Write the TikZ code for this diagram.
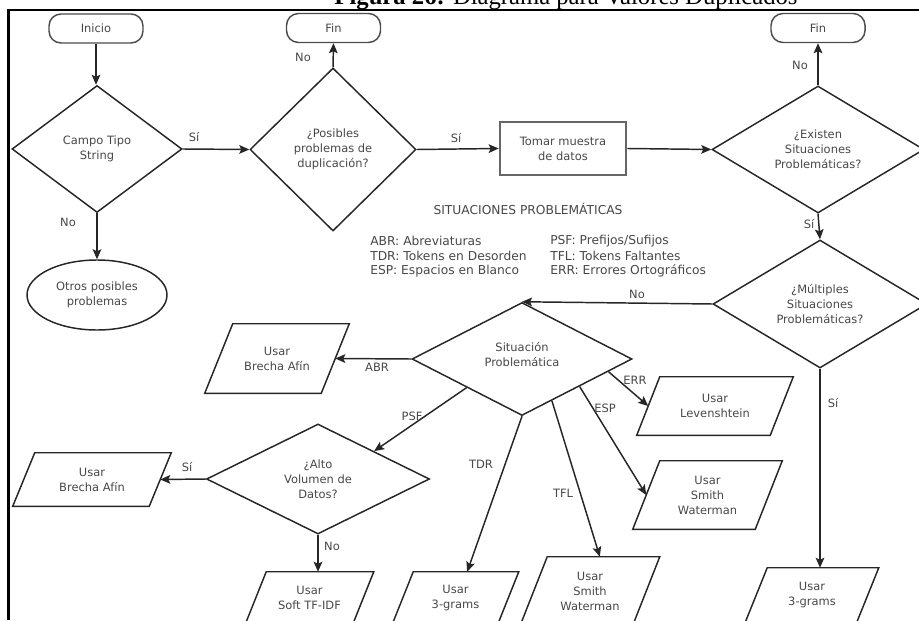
\documentclass[tikz,border=0pt]{standalone}
\usepackage{fontspec}
\setmainfont{DejaVu Sans}
\newfontfamily\captionserif{Liberation Serif}
\usetikzlibrary{shapes.geometric,arrows.meta,calc}

% slanted outline around a data node: #1 node name, #2 half of the horizontal slant
\newcommand{\ioframe}[2]{%
  \draw[shapeline] ($(#1.north west)+(#2,0)$) -- ($(#1.north east)+(#2,0)$)
    -- ($(#1.south east)-(#2,0)$) -- ($(#1.south west)-(#2,0)$) -- cycle;}

\begin{document}
\begin{tikzpicture}[x=0.75pt,y=-0.75pt,
  every node/.style={font=\fontsize{8.6}{11.3}\selectfont, text=black!72},
  shapeline/.style={draw=black!85, line width=1.1pt},
  arrow/.style={draw=black!85, line width=1.1pt, -{Stealth[length=7.5pt,width=6.5pt,inset=1.5pt]}},
  term/.style={shapeline, draw=black!70, rounded corners=9pt, inner sep=0pt,
    minimum width=94*0.75pt, minimum height=29*0.75pt},
  decision/.style={diamond, shapeline, aspect=1, inner sep=0pt, align=center},
  procbox/.style={rectangle, draw=black!60, line width=2pt, inner sep=0pt, align=center},
  iobox/.style 2 args={rectangle, inner sep=0pt, align=center,
    minimum width=#1*0.75pt, minimum height=#2*0.75pt},
  lbl/.style={inner sep=1pt},
  legend/.style={font=\fontsize{9.2}{11}\selectfont, inner sep=0pt},
]
\useasboundingbox (0,0) rectangle (919,620);

% page frame and caption
\draw[line width=2pt, black] (8.5,620) -- (8.5,10) -- (919,10);
\node[anchor=base, inner sep=0pt, text=black, font={\captionserif\fontsize{18.5}{20}\selectfont}]
  (caption) at (566,4.5) {\textbf{Figura 26:} Diagrama para Valores Duplicados};

% terminals
\node[term] (inicio) at (96,28.5) {Inicio};
\node[term] (fin1) at (333.5,28) {Fin};
\node[term] (fin2) at (818,28) {Fin};

% decisions
\node[decision, minimum width=170*0.75pt, minimum height=127*0.75pt] (d1) at (97,149) {Campo Tipo\\String};
\node[decision, minimum width=166*0.75pt, minimum height=163*0.75pt] (d2) at (333,149.5) {¿Posibles\\problemas de\\duplicación?};
\node[decision, minimum width=212*0.75pt, minimum height=127*0.75pt] (d3) at (818,149.5) {¿Existen\\Situaciones\\Problemáticas?};
\node[decision, minimum width=214*0.75pt, minimum height=128*0.75pt] (d4) at (820,304) {¿Múltiples\\Situaciones\\Problemáticas?};
\node[decision, minimum width=220*0.75pt, minimum height=113*0.75pt] (d5) at (522,359) {Situación\\Problemática\\[-4pt]\mbox{}};
\node[decision, minimum width=223*0.75pt, minimum height=110*0.75pt] (d6) at (318,479) {¿Alto\\Volumen de\\Datos?};

% process and other outcome
\node[procbox, minimum width=126*0.75pt, minimum height=53*0.75pt] (tomar) at (563,148.5) {Tomar muestra\\de datos};
\node[ellipse, shapeline, inner sep=0pt, align=center, minimum width=140*0.75pt, minimum height=70*0.75pt] (otros) at (97,295) {Otros posibles\\problemas};

% methods (data shapes)
\node[iobox={116}{69}] (p1) at (277,358.5) {Usar\\Brecha Afín};
\node[iobox={136}{53}] (p2) at (92,479.5) {Usar\\Brecha Afín};
\node[iobox={107}{52}] (p3) at (309.5,598) {Usar\\Soft TF-IDF};
\node[iobox={105}{52}] (p4) at (455.5,598) {Usar\\3-grams};
\node[iobox={112}{68}] (p5) at (590,591) {Usar\\Smith\\Waterman};
\node[iobox={122}{68}] (p6) at (707.5,495) {Usar\\Smith\\Waterman};
\node[iobox={133}{58}] (p7) at (715,406) {Usar\\Levenshtein};
\node[iobox={111}{54}] (p8) at (812,595) {Usar\\3-grams};
\ioframe{p1}{14}
\ioframe{p2}{11}
\ioframe{p3}{10.5}
\ioframe{p4}{10.5}
\ioframe{p5}{13.5}
\ioframe{p6}{13.5}
\ioframe{p7}{11.5}
\ioframe{p8}{11}

% legend
\node[legend] (legtitle) at (528,209) {SITUACIONES PROBLEMÁTICAS};
\node[legend, anchor=west] (abr) at (370,241) {ABR: Abreviaturas};
\node[legend, anchor=west] (tdr) at (370,256) {TDR: Tokens en Desorden};
\node[legend, anchor=west] (esp) at (370,271) {ESP: Espacios en Blanco};
\node[legend, anchor=west] (psf) at (550,241) {PSF: Prefijos/Sufijos};
\node[legend, anchor=west] (tfl) at (550,256) {TFL: Tokens Faltantes};
\node[legend, anchor=west] (err) at (550,271) {ERR: Errores Ortográficos};

% connectors
\draw[arrow] (inicio.south) -- (inicio.south |- d1.north);
\draw[arrow] (d1.south) -- (otros.north);
\draw[arrow] (d1.east) -- (d2.west);
\draw[arrow] (d2.north) -- (fin1.south);
\draw[arrow] (d2.east) -- (tomar.west);
\draw[arrow] (tomar.east) -- (d3.west);
\draw[arrow] (d3.north) -- (fin2.south);
\draw[arrow] (d3.south) -- (d4.north);
\draw[arrow] (d4.west) -- (d5.north);
\draw[arrow] (d4.south) -- (d4.south |- p8.north);
\draw[arrow] (d5.west) -- (p1.east);
\draw[arrow] ($(d5.west)!0.5!(d5.south)$) -- ($(d6.north)!0.5!(d6.east)$);
\draw[arrow] (d6.west) -- (p2.east);
\draw[arrow] (d6.south) -- (d6.south |- p3.north);
\draw[arrow] (d5.south) -- (p4.66);
\draw[arrow] ($(d5.south)!0.27!(d5.east)$) -- (p5.74);
\draw[arrow] ($(d5.south)!0.52!(d5.east)$) -- (p6.west);
\draw[arrow] ($(d5.south)!0.78!(d5.east)$) -- (p7.west);

% connector labels
\node[lbl] (l1) at (68,222) {No};
\node[lbl] (l2) at (194,137) {Sí};
\node[lbl] (l3) at (303,57) {No};
\node[lbl] (l4) at (456,138) {Sí};
\node[lbl] (l5) at (800,65) {No};
\node[lbl] (l6) at (809,224) {Sí};
\node[lbl] (l7) at (637,294) {No};
\node[lbl] (l8) at (833,403) {Sí};
\node[lbl] (l9) at (377,367) {ABR};
\node[lbl] (l10) at (412,416) {PSF};
\node[lbl] (l11) at (187,467) {Sí};
\node[lbl] (l12) at (332,546) {No};
\node[lbl] (l13) at (481,464) {TDR};
\node[lbl] (l14) at (563,493) {TFL};
\node[lbl] (l15) at (605,408) {ESP};
\node[lbl] (l16) at (635,380) {ERR};
\end{tikzpicture}
\end{document}
